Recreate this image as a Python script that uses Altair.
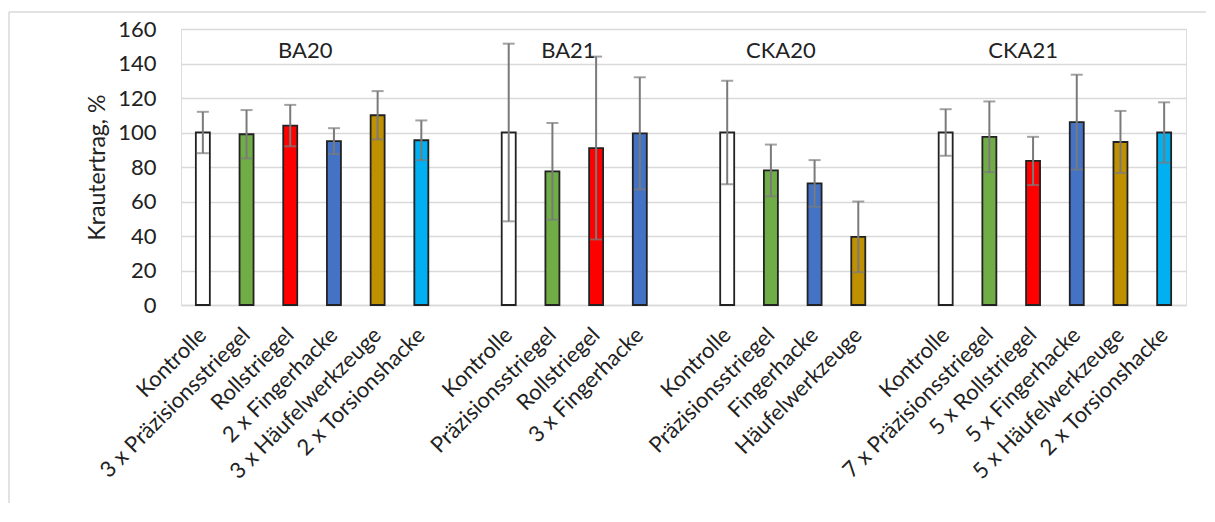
import altair as alt
import pandas as pd

groups = ["BA20"] * 6 + ["BA21"] * 4 + ["CKA20"] * 4 + ["CKA21"] * 6
treatments = [
    "Kontrolle", "3 x Präzisionsstriegel", "Rollstriegel", "2 x Fingerhacke", "3 x Häufelwerkzeuge", "2 x Torsionshacke",
    "Kontrolle", "Präzisionsstriegel", "Rollstriegel", "3 x Fingerhacke",
    "Kontrolle", "Präzisionsstriegel", "Fingerhacke", "Häufelwerkzeuge",
    "Kontrolle", "7 x Präzisionsstriegel", "5 x Rollstriegel", "5 x Fingerhacke", "5 x Häufelwerkzeuge", "2 x Torsionshacke",
]
means = [100, 99, 104, 95, 110, 95.5,
         100, 77.5, 91, 99.5,
         100, 78, 70.5, 39.5,
         100, 97.5, 83.5, 106, 94.5, 100]
sds = [12, 14, 12, 7.5, 14, 11.5,
       51.5, 28, 53, 32.5,
       30, 15, 13.5, 20.5,
       13.5, 20.5, 14, 27.5, 18, 17.5]

group_names = ["BA20", "BA21", "CKA20", "CKA21"]
label_anchor = ["Rollstriegel", "Präzisionsstriegel", "Präzisionsstriegel", "5 x Rollstriegel"]

tools = ["Kontrolle", "Präzisionsstriegel", "Rollstriegel", "Fingerhacke", "Häufelwerkzeuge", "Torsionshacke"]
tool_colors = ["#FFFFFF", "#70AD47", "#FF0000", "#4472C4", "#BF9000", "#00B0F0"]

ids = [f"{g}|{t}" for g, t in zip(groups, treatments)]
df = pd.DataFrame({
    "id": ids,
    "group": groups,
    "treatment": treatments,
    "tool": [t.split(" x ")[-1] for t in treatments],
    "mean": means,
    "lo": [m - s for m, s in zip(means, sds)],
    "hi": [m + s for m, s in zip(means, sds)],
})

order = []
for i, g in enumerate(group_names):
    if i > 0:
        order.append(f"gap{i}|")
    order += [x for x, gg in zip(ids, groups) if gg == g]

FONT = "Lato"
TXT = "#222222"

X_SCALE = alt.Scale(domain=order, paddingInner=0, paddingOuter=0)
X_AXIS = alt.Axis(
    title=None, labelAngle=-45, labelAlign="right", labelBaseline="middle",
    labelExpr="split(datum.value, '|')[1]", labelFontSize=22, labelFont=FONT,
    labelColor=TXT, labelPadding=26, ticks=False, domainColor="#d9d9d9",
    domainWidth=1.5, labelOverlap=False, labelLimit=400,
)
Y_SCALE = alt.Scale(domain=[0, 160], nice=False)
Y_AXIS = alt.Axis(
    values=list(range(0, 161, 20)), title="Krautertrag, %", titleFontSize=23,
    titleFont=FONT, titleFontWeight="normal", titleColor=TXT, titleX=-84,
    titleBaseline="middle", labelFontSize=22, labelFont=FONT, labelColor=TXT,
    labelPadding=25, labelOverlap=False, domain=False, ticks=False,
    gridColor="#d9d9d9", gridWidth=1.5,
)


def X(field):
    return alt.X(field, scale=X_SCALE, axis=X_AXIS)


def Y(field):
    return alt.Y(field, scale=Y_SCALE, axis=Y_AXIS)


base = alt.Chart(df)
bars = base.mark_bar(size=14, stroke="#222222", strokeWidth=1.8).encode(
    x=X("id:N"), y=Y("mean:Q"),
    color=alt.Color("tool:N", scale=alt.Scale(domain=tools, range=tool_colors), legend=None),
)
err = base.mark_rule(color="#7a7a7a", strokeWidth=2).encode(
    x=X("id:N"), y=Y("lo:Q"), y2="hi:Q"
)
cap_hi = base.mark_tick(color="#7a7a7a", size=12, thickness=2, orient="horizontal").encode(
    x=X("id:N"), y=Y("hi:Q")
)
cap_lo = base.mark_tick(color="#7a7a7a", size=12, thickness=2, orient="horizontal").encode(
    x=X("id:N"), y=Y("lo:Q")
)

dx_list = [15, 16, 10, -10]
label_layers = []
for g, a, d in zip(group_names, label_anchor, dx_list):
    label_layers.append(
        alt.Chart(pd.DataFrame({"g": [g]})).mark_text(
            fontSize=22, font=FONT, color=TXT, baseline="middle", align="center", dx=d
        ).encode(
            x=alt.datum(f"{g}|{a}", scale=X_SCALE, axis=X_AXIS),
            y=alt.datum(147, scale=Y_SCALE, axis=Y_AXIS),
            text="g:N",
        )
    )

frame_df = pd.DataFrame({"a": [0]})
frame_left = alt.Chart(frame_df).mark_rule(color="#d9d9d9", strokeWidth=1.5).encode(
    x=alt.value(-172), y=alt.value(-17), y2=alt.value(500)
)
frame_top = alt.Chart(frame_df).mark_rule(color="#d9d9d9", strokeWidth=1.5).encode(
    x=alt.value(-172), x2=alt.value(1040), y=alt.value(-17)
)

chart = alt.layer(frame_left, frame_top, bars, err, cap_hi, cap_lo, *label_layers).properties(
    width=1005, height=276,
    padding={"left": 173, "top": 21, "right": 20, "bottom": 198},
    autosize=alt.AutoSizeParams(type="none"),
).configure_view(stroke=None).configure(background="white")

chart.save("out.html", embed_options={"renderer": "svg", "actions": False})
